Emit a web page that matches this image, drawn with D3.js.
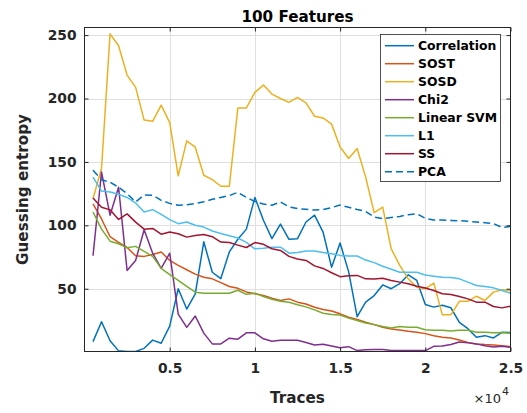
<!DOCTYPE html>
<html>
<head>
<meta charset="utf-8">
<script src="https://cdn.jsdelivr.net/npm/d3@7"></script>
<style>
  html, body { margin: 0; padding: 0; background: #fff; }
  svg { display: block; font-family: "DejaVu Sans", sans-serif; }
</style>
</head>
<body>
<svg id="chart" width="527" height="413"></svg>
<script>
// Number of traces at each measurement step
const traces = [500, 1000, 1500, 2000, 2500, 3000, 3500, 4000, 4500, 5000,
  5500, 6000, 6500, 7000, 7500, 8000, 8500, 9000, 9500, 10000,
  10500, 11000, 11500, 12000, 12500, 13000, 13500, 14000, 14500, 15000,
  15500, 16000, 16500, 17000, 17500, 18000, 18500, 19000, 19500, 20000,
  20500, 21000, 21500, 22000, 22500, 23000, 23500, 24000, 24500, 25000];

// Guessing entropy per feature-selection method (100 features)
const correlation = [8.3, 24, 9, 1, 0.5, 0.5, 3, 9.5, 7, 20.5,
  50, 34, 46, 87, 63, 58, 79, 89, 97, 122,
  104, 89.5, 101, 89, 89.5, 102.6, 108, 94.7, 67, 86,
  63.5, 28, 39.5, 44.6, 53, 50, 54, 61, 56.5, 37.5,
  35.5, 37, 35, 23.5, 18.5, 11.7, 13, 11.2, 15.6, 15.4];
const sost = [117, 105, 91, 86.5, 82.5, 76, 75.5, 77, 79, 72.3,
  68.4, 65, 61.5, 59, 57.8, 54.8, 51.8, 50.3, 47.5, 46,
  44.6, 42.5, 40.7, 42, 39.4, 38, 35.4, 33.7, 32.4, 30.2,
  27.5, 25.8, 23.5, 21.7, 19.6, 18.3, 17.5, 16.4, 15.6, 14.6,
  13, 11.7, 11.2, 9.6, 7.7, 6.5, 6, 5.7, 5.1, 4.3];
const sosd = [121, 145, 251, 241.6, 218.5, 208.8, 183, 182, 194.8, 181,
  139, 166.6, 161.6, 139.5, 136, 130.8, 130.8, 192.6, 192.6, 204.8,
  210.6, 203.5, 200, 197, 200.9, 196.6, 186, 184.7, 179.8, 161.8,
  152.7, 160.6, 138, 110, 114.4, 81.5, 68.4, 57.8, 51.2, 50,
  54.4, 29.4, 29.4, 40.1, 40.1, 44.1, 40.7, 47.3, 49.2, 48.6];
const chi2 = [76, 142, 108, 130, 64.4, 72.3, 96.5, 78, 66, 78,
  30, 19.5, 28.5, 15, 6.5, 6.5, 11, 10.2, 15.2, 15.2,
  10.5, 8.6, 9.4, 9.4, 9.4, 7.6, 5.7, 6.3, 4.8, 3.4,
  4.3, 1.2, 1.8, 2, 2, 1.2, 1.2, 1.2, 1.2, 1.2,
  4.6, 4.8, 6, 8, 7.3, 6.5, 5, 4, 4.6, 3.9];
const linearSvm = [110.5, 97, 87.5, 85.5, 82.3, 83.4, 79.5, 75.5, 66, 61.2,
  56.5, 51.8, 47.3, 46.5, 46.5, 46.5, 46.5, 48.8, 45.6, 46.5,
  43.9, 41.7, 40.1, 39.4, 37.3, 35.7, 33.3, 30.7, 29.6, 29.2,
  26.8, 25, 23, 21.7, 20.2, 19.1, 20.2, 19.6, 19.6, 17.7,
  17.2, 17.2, 16.6, 17.2, 17.2, 15.6, 15.6, 15.2, 15.4, 14.9];
const l1 = [138, 127, 126.3, 124.5, 122, 117.6, 110.5, 112.4, 108.7, 104.5,
  101.3, 102.6, 100, 98.6, 95.5, 93.5, 91.8, 90, 86.5, 81.5,
  82, 82.8, 82.8, 78, 78.5, 79.8, 79.7, 78.5, 77.6, 76.3,
  75.8, 75.8, 72.6, 70.6, 67.7, 65.3, 63, 63, 63, 60.8,
  59.9, 59.1, 58.8, 57.8, 55.2, 52.5, 51.8, 50.7, 48.6, 46.5];
const ss = [121.5, 114.2, 112.2, 104.6, 109, 102.5, 97, 97.5, 93, 94.7,
  93.4, 90.7, 92, 92.7, 91, 86.8, 86.4, 84.4, 82.5, 86.4,
  85, 81.5, 80.2, 75.5, 73.4, 72.3, 68, 66, 62.6, 59.5,
  60.2, 60.5, 57.8, 57.6, 58.3, 56.5, 55.2, 53.9, 52, 50.5,
  48.6, 46, 45.5, 43.9, 42, 39.4, 39.4, 36, 34.9, 36.2];
const pca = [143.4, 136, 134, 130, 125, 118.4, 124, 123.7, 119.7, 117.3,
  115.8, 116.3, 117.1, 118.6, 120.5, 122, 123.5, 126, 122, 118.8,
  116.8, 115.8, 118.4, 114.5, 113.2, 112.6, 112, 112.4, 114, 116,
  114.2, 112.4, 111, 106.5, 105.3, 106.2, 107, 108.4, 109.2, 105.5,
  104.2, 104.2, 103.9, 103.6, 103.2, 102.6, 102.1, 101.4, 98.3, 99.2];

const seriesNames = ["Correlation", "SOST", "SOSD", "Chi2", "Linear SVM", "L1", "SS", "PCA"];
const seriesValues = [correlation, sost, sosd, chi2, linearSvm, l1, ss, pca];
const seriesColors = ["#0072BD", "#D95319", "#EDB120", "#7E2F8E", "#77AC30", "#4DBEEE", "#A2142F", "#0072BD"];
const seriesDashed = [false, false, false, false, false, false, false, true];

const xTicks = [5000, 10000, 15000, 20000, 25000];
const xTickLabels = ["0.5", "1", "1.5", "2", "2.5"];
const yTicks = [50, 100, 150, 200, 250];

// Axes box geometry
const L = 84.5, R = 510.5, T = 27.5, B = 351.5;
const axisColor = "#262626";

const svg = d3.select("#chart");
svg.append("rect").attr("width", 527).attr("height", 413).attr("fill", "#fff");

const x = d3.scaleLinear().domain([0, 25000]).range([L, R]);
const y = d3.scaleLinear().domain([0.5, 256]).range([B, T]);

// Grid
const grid = svg.append("g").attr("stroke", "#dfdfdf").attr("stroke-width", 1);
grid.selectAll("line.gx").data(xTicks.filter(d => d < 25000)).join("line")
  .attr("x1", d => Math.round(x(d)) + 0.5).attr("x2", d => Math.round(x(d)) + 0.5)
  .attr("y1", T).attr("y2", B);
grid.selectAll("line.gy").data(yTicks).join("line")
  .attr("x1", L).attr("x2", R)
  .attr("y1", d => Math.round(y(d)) + 0.5).attr("y2", d => Math.round(y(d)) + 0.5);

// Series lines
svg.append("clipPath").attr("id", "plotClip")
  .append("rect").attr("x", L).attr("y", T).attr("width", R - L).attr("height", B - T);

const line = d3.line().x((d, i) => x(traces[i])).y(d => y(d));
const lines = svg.append("g").attr("clip-path", "url(#plotClip)");
seriesValues.forEach((vals, k) => {
  lines.append("path")
    .datum(vals)
    .attr("d", line)
    .attr("fill", "none")
    .attr("stroke", seriesColors[k])
    .attr("stroke-width", 1.5)
    .attr("stroke-linejoin", "round")
    .attr("stroke-dasharray", seriesDashed[k] ? "7,4" : null);
});

// Axes with inward ticks on all four sides
function styleAxis(g) {
  g.select(".domain").remove();
  g.selectAll(".tick line").attr("stroke", axisColor);
  g.selectAll(".tick text")
    .attr("fill", axisColor)
    .attr("font-family", "DejaVu Sans, sans-serif")
    .attr("font-weight", "bold")
    .attr("font-size", "13.8px");
}
svg.append("g").attr("transform", `translate(0,${B})`)
  .call(d3.axisBottom(x).tickValues(xTicks).tickFormat((d, i) => xTickLabels[i]).tickSize(-4).tickPadding(12))
  .call(styleAxis);
svg.append("g").attr("transform", `translate(0,${T})`)
  .call(d3.axisTop(x).tickValues(xTicks).tickFormat("").tickSize(-4))
  .call(styleAxis);
svg.append("g").attr("transform", `translate(${L},0)`)
  .call(d3.axisLeft(y).tickValues(yTicks).tickSize(-4).tickPadding(8))
  .call(styleAxis);
svg.append("g").attr("transform", `translate(${R},0)`)
  .call(d3.axisRight(y).tickValues(yTicks).tickFormat("").tickSize(-4))
  .call(styleAxis);

svg.append("rect")
  .attr("x", L).attr("y", T).attr("width", R - L).attr("height", B - T)
  .attr("fill", "none").attr("stroke", axisColor).attr("stroke-width", 1);

// Titles and labels
svg.append("text").attr("x", (L + R) / 2).attr("y", 21.8)
  .attr("text-anchor", "middle").attr("font-weight", "bold").attr("font-size", "15.2px")
  .attr("fill", "#000").text("100 Features");
svg.append("text").attr("x", (L + R) / 2).attr("y", 402.5)
  .attr("text-anchor", "middle").attr("font-weight", "bold").attr("font-size", "15.2px")
  .attr("fill", axisColor).text("Traces");
svg.append("text").attr("transform", `translate(28,${(T + B) / 2}) rotate(-90)`)
  .attr("text-anchor", "middle").attr("font-weight", "bold").attr("font-size", "15.2px")
  .attr("fill", axisColor).text("Guessing entropy");

// Exponent of the x axis
const expo = svg.append("text").attr("x", 501).attr("y", 402.5)
  .attr("text-anchor", "end").attr("font-size", "13px").attr("fill", axisColor).text("\u00d710");
svg.append("text").attr("x", 502).attr("y", 395)
  .attr("font-size", "11px").attr("fill", axisColor).text("4");

// Legend
const lgX = 380.5, lgY = 34.5, lgW = 120, lgH = 147, rowH = 18;
const legend = svg.append("g");
legend.append("rect").attr("x", lgX).attr("y", lgY).attr("width", lgW).attr("height", lgH)
  .attr("fill", "#fff").attr("stroke", axisColor).attr("stroke-width", 0.8);
seriesNames.forEach((name, k) => {
  const ly = 45.7 + k * rowH;
  legend.append("line").attr("x1", 385).attr("x2", 414).attr("y1", ly).attr("y2", ly)
    .attr("stroke", seriesColors[k]).attr("stroke-width", 1.5)
    .attr("stroke-dasharray", seriesDashed[k] ? "7,4" : null);
  legend.append("text").attr("x", 418).attr("y", ly + 4.6)
    .attr("font-weight", "bold").attr("font-size", "12.4px").attr("fill", "#000").text(name);
});
</script>
</body>
</html>
